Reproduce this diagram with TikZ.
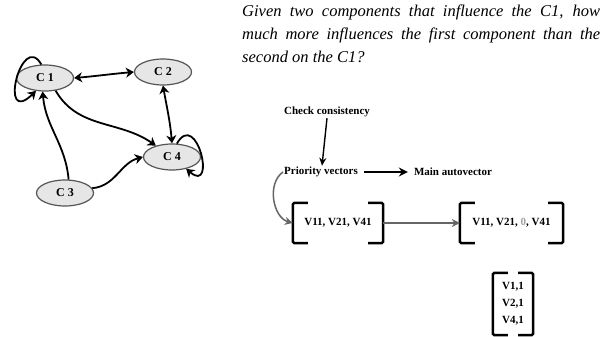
\documentclass[tikz,border=0pt]{standalone}
\usepackage{fontspec}
\setmainfont{Liberation Serif}
\usetikzlibrary{arrows.meta,shapes.geometric}
\definecolor{conceptfill}{HTML}{E6E6E6}
\definecolor{conceptline}{HTML}{555555}
\definecolor{stepgray}{HTML}{666666}
\definecolor{zerogray}{HTML}{A0A0A0}
\tikzstyle{concept} = [
    ellipse,
    draw=conceptline,
    fill=conceptfill,
    line width=1.2pt,
    minimum width=57pt,
    minimum height=26pt,
    inner sep=0pt,
    font=\bfseries\fontsize{12}{14}\selectfont
    ]
\tikzstyle{link} = [
    line width=1.8pt,
    -{Stealth[length=8pt,width=10pt,inset=2.5pt]}
    ]
\tikzstyle{linkboth} = [
    link,
    {Stealth[length=8pt,width=10pt,inset=2.5pt]}-{Stealth[length=8pt,width=10pt,inset=2.5pt]}
    ]
\tikzstyle{steptext} = [
    font=\bfseries\fontsize{11}{13}\selectfont,
    inner sep=1pt
    ]
\tikzstyle{vecbox} = [
    font=\bfseries\fontsize{11}{17}\selectfont,
    align=center,
    inner sep=0pt
    ]
\tikzstyle{bracket} = [
    line width=2.5pt,
    rounded corners=1.5pt
    ]
\newcommand{\vbrackets}[1]{% square brackets round a node
\draw[bracket] ([xshift=15pt]#1.north west) -- (#1.north west) -- (#1.south west) -- ++(15pt,0);
\draw[bracket] ([xshift=-15pt]#1.north east) -- (#1.north east) -- (#1.south east) -- ++(-15pt,0);
}

\begin{document}
\begin{tikzpicture}[x=1pt, y=1pt]
\useasboundingbox[fill=white] (0,0) rectangle (603,-337);

% concept graph
\node[concept] (c1) at (45,-78) {C 1};
\node[concept] (c2) at (163,-72) {C 2};
\node[concept] (c4) at (172,-157) {C 4};
\node[concept] (c3) at (65,-193) {C 3};

\draw[linkboth] (c1.east) to[out=5, in=185] (c2.west);
\draw[linkboth] (c2.south) to[out=-80, in=95] (c4.north);
\draw[link] (c1.-50) to[out=-60, in=145] (c4.145);
\draw[link] (c3.75) to[out=95, in=-85] (c1.-100);
\draw[link] (c3.10) to[out=5, in=195] (c4.west);
\draw[link] (c1.105) to[out=120, in=-136, out distance=40pt, in distance=53pt] (c1.235);
\draw[link] (c4.70) to[out=60, in=-40, out distance=40pt, in distance=40pt] (c4.-40);

% question
\node[anchor=north west, text width=358pt, inner sep=0pt, align=justify,
      font=\itshape\fontsize{16.5}{23}\selectfont] (question) at (242,-5)
      {Given two components that influence the C1, how\linebreak
       much more influences the first component than the\linebreak
       second on the C1?};

% steps
\node[steptext] (check) at (327,-112) {Check consistency};
\node[steptext] (prio) at (321,-172) {Priority vectors};
\node[steptext] (main) at (453,-172) {Main autovector};

\node[vecbox, minimum width=90pt, minimum height=40pt] (vec1) at (338,-223) {V11, V21, V41};
\node[vecbox, minimum width=103pt, minimum height=40pt] (vec2) at (511.5,-223)
      {V11, V21, \textcolor{zerogray}{0}, V41};
\node[vecbox, minimum width=40pt, minimum height=62pt] (vec3) at (513,-304) {V1,1\\V2,1\\V4,1};
\vbrackets{vec1}
\vbrackets{vec2}
\vbrackets{vec3}

\draw[line width=1.4pt, -{Stealth[length=8pt,width=7pt]}] (check.south) -- ([xshift=1pt]prio.north);
\draw[line width=2.2pt, -{Stealth[length=9pt,width=9pt]}] ([xshift=5pt]prio.east) -- ([xshift=-5pt]main.west);
\draw[stepgray, line width=1.5pt, -{Stealth[length=8pt,width=8pt]}] (prio.west) to[out=215, in=165] (vec1.west);
\draw[stepgray, line width=1.5pt, -{Stealth[length=8pt,width=8pt]}] (vec1.east) -- (vec2.west);
\end{tikzpicture}
\end{document}
